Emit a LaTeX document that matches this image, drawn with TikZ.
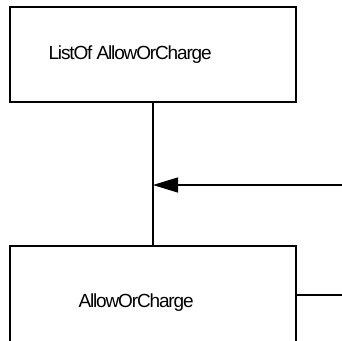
\documentclass[tikz,border=0pt]{standalone}
\usepackage{fontspec}
\setmainfont{Liberation Sans}[LetterSpace=-6]
\usetikzlibrary{arrows.meta,calc}

\begin{document}
\begin{tikzpicture}[>={Triangle[length=25pt,width=15pt]},x=1pt,y=-1pt,
  classbox/.style={draw,line width=1.4pt,minimum width=286pt,minimum height=95pt,inner sep=0pt},
  classname/.style={anchor=west,font=\fontsize{19}{22}\selectfont,inner sep=0pt},
  link/.style={line width=1.4pt}]

  \useasboundingbox (0,0) rectangle (342,340);

  % =====================================================================
  % CLASS BOXES
  % =====================================================================
  \node[classbox] (list) at (153,54.5) {};
  \node[classname] (listname) at ($(list.west)+(39,0)$) {ListOf AllowOrCharge};

  \node[classbox,minimum height=114pt] (item) at (153,303) {};
  \node[classname] (itemname) at ($(item.west)+(69,0)$) {AllowOrCharge};

  % =====================================================================
  % CONNECTORS
  % =====================================================================
  \draw[link] (list.south) -- (item.north);

  \coordinate (inref) at (342,185);
  \draw[link,->] (inref) -- (inref -| list.south);

  \coordinate (outref) at (342,295);
  \draw[link] (item.east |- outref) -- (outref);

\end{tikzpicture}
\end{document}
